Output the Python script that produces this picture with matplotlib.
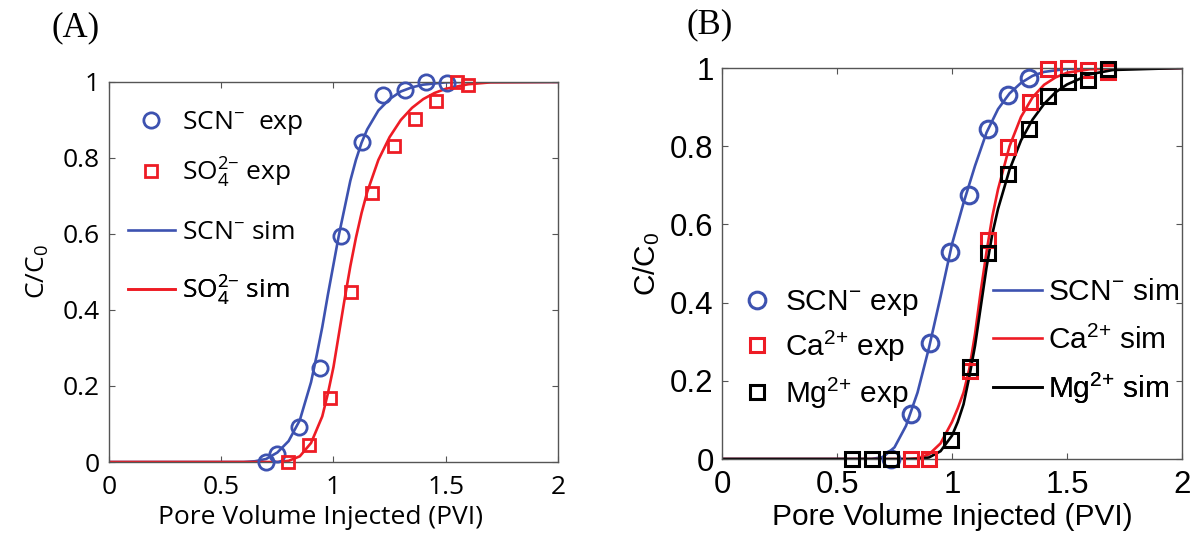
import matplotlib
matplotlib.use("Agg")
import matplotlib.pyplot as plt
from matplotlib.lines import Line2D

plt.rcParams['mathtext.default'] = 'regular'

# ---------------- Panel A data ----------------
a_scn_exp_x = [0.699, 0.750, 0.847, 0.938, 1.032, 1.125, 1.222, 1.318, 1.410, 1.506]
a_scn_exp_y = [0.000, 0.022, 0.091, 0.247, 0.594, 0.841, 0.966, 0.978, 1.000, 0.998]
a_so4_exp_x = [0.796, 0.891, 0.984, 1.079, 1.173, 1.270, 1.364, 1.458, 1.552, 1.598]
a_so4_exp_y = [0.000, 0.046, 0.168, 0.448, 0.707, 0.832, 0.902, 0.951, 1.000, 0.993]
a_scn_sim_x = [0, 0.6, 0.65, 0.7, 0.75, 0.8, 0.85, 0.9, 0.925, 0.95, 0.975, 1.0, 1.025,
               1.05, 1.075, 1.1, 1.125, 1.15, 1.2, 1.25, 1.3, 1.35, 1.4, 1.5, 1.6, 2.0]
a_scn_sim_y = [0, 0, 0.002, 0.008, 0.025, 0.055, 0.11, 0.21, 0.28, 0.355, 0.44, 0.52, 0.60,
               0.67, 0.74, 0.795, 0.84, 0.875, 0.925, 0.955, 0.975, 0.986, 0.993, 0.999,
               1.0, 1.0]
a_so4_sim_x = [0, 0.75, 0.8, 0.85, 0.9, 0.95, 0.975, 1.0, 1.025, 1.05, 1.075, 1.1, 1.125,
               1.15, 1.2, 1.25, 1.3, 1.35, 1.4, 1.45, 1.5, 1.6, 1.7, 2.0]
a_so4_sim_y = [0, 0, 0.003, 0.015, 0.05, 0.12, 0.18, 0.25, 0.34, 0.43, 0.515, 0.59, 0.655,
               0.71, 0.795, 0.855, 0.90, 0.932, 0.955, 0.971, 0.982, 0.994, 0.999, 1.0]

# ---------------- Panel B data ----------------
b_scn_exp_x = [0.733, 0.820, 0.905, 0.991, 1.075, 1.156, 1.243, 1.333]
b_scn_exp_y = [0.000, 0.115, 0.296, 0.530, 0.676, 0.845, 0.930, 0.974]
b_ca_exp_x = [0.820, 0.902, 1.078, 1.157, 1.243, 1.337, 1.419, 1.506, 1.592, 1.679]
b_ca_exp_y = [0.000, 0.000, 0.226, 0.561, 0.798, 0.913, 0.997, 1.000, 0.996, 0.991]
b_mg_exp_x = [0.563, 0.650, 0.733, 0.996, 1.078, 1.156, 1.243, 1.333, 1.419, 1.506, 1.592, 1.679]
b_mg_exp_y = [0.000, 0.000, 0.000, 0.048, 0.235, 0.526, 0.730, 0.845, 0.928, 0.965, 0.970, 0.997]
b_scn_sim_x = [0, 0.65, 0.7, 0.75, 0.8, 0.85, 0.9, 0.95, 1.0, 1.05, 1.1, 1.15, 1.2, 1.25,
               1.3, 1.35, 1.4, 1.5, 2.0]
b_scn_sim_y = [0, 0, 0.005, 0.03, 0.085, 0.17, 0.285, 0.415, 0.55, 0.655, 0.75, 0.835,
               0.895, 0.935, 0.962, 0.98, 0.99, 0.998, 1.0]
b_ca_sim_x = [0, 0.8, 0.85, 0.9, 0.95, 1.0, 1.025, 1.05, 1.075, 1.1, 1.125, 1.15, 1.175,
              1.2, 1.25, 1.3, 1.35, 1.4, 1.45, 1.5, 1.6, 2.0]
b_ca_sim_y = [0, 0, 0.002, 0.012, 0.04, 0.095, 0.13, 0.17, 0.23, 0.32, 0.43, 0.53, 0.62,
              0.69, 0.80, 0.875, 0.925, 0.957, 0.976, 0.988, 0.997, 1.0]
b_mg_sim_x = [0, 0.85, 0.9, 0.95, 1.0, 1.025, 1.05, 1.075, 1.1, 1.125, 1.15, 1.175, 1.2,
              1.25, 1.3, 1.35, 1.4, 1.45, 1.5, 1.6, 1.7, 2.0]
b_mg_sim_y = [0, 0, 0.004, 0.02, 0.06, 0.095, 0.14, 0.21, 0.29, 0.39, 0.49, 0.575, 0.64,
              0.74, 0.815, 0.868, 0.908, 0.938, 0.958, 0.984, 0.995, 1.0]

x_ticks = [0, 0.5, 1, 1.5, 2]
x_tick_labels = ['0', '0.5', '1', '1.5', '2']
y_ticks = [0, 0.2, 0.4, 0.6, 0.8, 1.0]
y_tick_labels = ['0', '0.2', '0.4', '0.6', '0.8', '1']

BLUE = '#3D52B0'
RED = '#EE1C25'
BLACK = '#000000'

fig = plt.figure(figsize=(11.94, 5.33), dpi=100)
axA = fig.add_axes([0.0913, 0.1332, 0.376, 0.713])
axB = fig.add_axes([0.6047, 0.1388, 0.3853, 0.7336])


def style_axes(ax, family, fs, xpad, ypad):
    ax.set_xlim(0, 2)
    ax.set_ylim(0, 1)
    ax.set_xticks(x_ticks)
    ax.set_xticklabels(x_tick_labels)
    ax.set_yticks(y_ticks)
    ax.set_yticklabels(y_tick_labels)
    ax.tick_params(direction='in', top=True, right=True, length=4, width=0.8,
                   color='#555555', labelsize=fs, labelfontfamily=family)
    ax.tick_params(axis='x', pad=xpad)
    ax.tick_params(axis='y', pad=ypad)
    for s in ax.spines.values():
        s.set_color('#555555')
        s.set_linewidth(1.0)


def one_entry_legend(ax, handle, label, x, y, family, fs, hl, pad):
    leg = ax.legend([handle], [label], loc='center left', bbox_to_anchor=(x, y),
                    frameon=False, prop={'family': family, 'size': fs},
                    handlelength=hl, handletextpad=pad, borderaxespad=0, borderpad=0)
    ax.add_artist(leg)
    return leg


# ---------------- Panel A ----------------
famA = 'Open Sans'
fsA = 19
axA.plot(a_scn_sim_x, a_scn_sim_y, color=BLUE, lw=1.9, zorder=2)
axA.plot(a_so4_sim_x, a_so4_sim_y, color=RED, lw=1.9, zorder=2)
axA.plot(a_scn_exp_x, a_scn_exp_y, 'o', mfc='none', mec=BLUE, ms=11, mew=2.0, zorder=3,
         clip_on=False)
axA.plot(a_so4_exp_x, a_so4_exp_y, 's', mfc='none', mec=RED, ms=8.5, mew=2.0, zorder=3,
         clip_on=False)
style_axes(axA, famA, fsA, 9, 7)
axA.set_xlabel('Pore Volume Injected (PVI)', fontsize=fsA, family=famA)
axA.set_ylabel('C/C$_0$', fontsize=fsA, family=famA)
axA.xaxis.set_label_coords(0.47, -0.112)
axA.yaxis.set_label_coords(-0.13, 0.5)

legA = [
    (Line2D([], [], ls='none', marker='o', mfc='none', mec=BLUE, ms=11, mew=2.0),
     'SCN$^{{-}}$  exp', 0.892),
    (Line2D([], [], ls='none', marker='s', mfc='none', mec=RED, ms=8.5, mew=2.0),
     'SO$_{4}^{2{-}}$ exp', 0.761),
    (Line2D([], [], color=BLUE, lw=1.9), 'SCN$^{{-}}$ sim', 0.603),
    (Line2D([], [], color=RED, lw=1.9), 'SO$_{4}^{2{-}}$ sim', 0.45),
]
for h, lab, yy in legA:
    one_entry_legend(axA, h, lab, 0.042, yy, famA, fsA, 1.78, 0.27)

# ---------------- Panel B ----------------
famB = 'Liberation Sans'
fsB = 21.5
axB.plot(b_scn_sim_x, b_scn_sim_y, color=BLUE, lw=1.9, zorder=2)
axB.plot(b_ca_sim_x, b_ca_sim_y, color=RED, lw=1.9, zorder=2)
axB.plot(b_mg_sim_x, b_mg_sim_y, color=BLACK, lw=1.9, zorder=2)
axB.plot(b_scn_exp_x, b_scn_exp_y, 'o', mfc='none', mec=BLUE, ms=12, mew=2.2, zorder=3,
         clip_on=False)
axB.plot(b_ca_exp_x, b_ca_exp_y, 's', mfc='none', mec=RED, ms=9.5, mew=2.2, zorder=3,
         clip_on=False)
axB.plot(b_mg_exp_x, b_mg_exp_y, 's', mfc='none', mec=BLACK, ms=9.5, mew=2.2, zorder=4,
         clip_on=False)
style_axes(axB, famB, 22.5, 8, 6)
axB.set_xlabel('Pore Volume Injected (PVI)', fontsize=fsB, family=famB)
axB.set_ylabel('C/C$_0$', fontsize=fsB, family=famB)
axB.xaxis.set_label_coords(0.5, -0.112)
axB.yaxis.set_label_coords(-0.13, 0.5)

legB_exp = [
    (Line2D([], [], ls='none', marker='o', mfc='none', mec=BLUE, ms=12, mew=2.2),
     'SCN$^{{-}}$ exp', 0.399),
    (Line2D([], [], ls='none', marker='s', mfc='none', mec=RED, ms=9.5, mew=2.2),
     'Ca$^{2{+}}$ exp', 0.289),
    (Line2D([], [], ls='none', marker='s', mfc='none', mec=BLACK, ms=9.5, mew=2.2),
     'Mg$^{2{+}}$ exp', 0.169),
]
for h, lab, yy in legB_exp:
    one_entry_legend(axB, h, lab, 0.027, yy, famB, fsB, 1.5, 0.19)

legB_sim = [
    (Line2D([], [], color=BLUE, lw=1.9), 'SCN$^{{-}}$ sim', 0.427),
    (Line2D([], [], color=RED, lw=1.9), 'Ca$^{2{+}}$ sim', 0.304),
    (Line2D([], [], color=BLACK, lw=1.9), 'Mg$^{2{+}}$ sim', 0.181),
]
for h, lab, yy in legB_sim:
    one_entry_legend(axB, h, lab, 0.589, yy, famB, fsB, 1.64, 0.2)

fig.text(76 / 1194, 1 - 28 / 533, '(A)', family='Liberation Serif', fontsize=25,
         ha='center', va='center')
fig.text(710 / 1194, 1 - 25 / 533, '(B)', family='Liberation Serif', fontsize=25,
         ha='center', va='center')

fig.savefig('out.png', dpi=100)
